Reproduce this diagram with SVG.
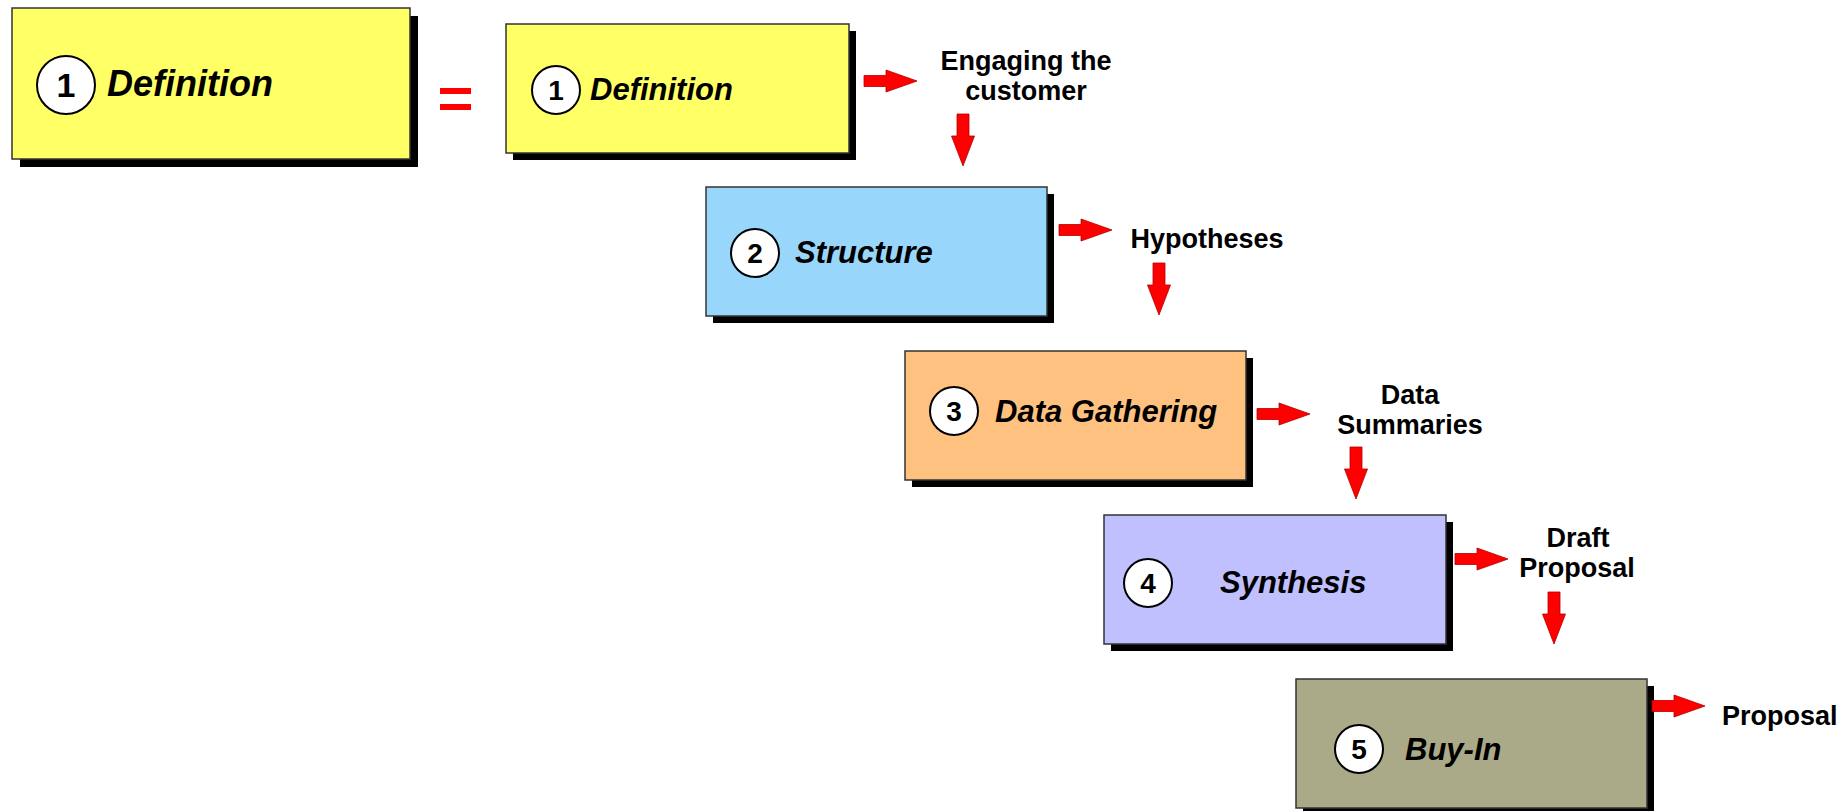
<svg xmlns="http://www.w3.org/2000/svg" width="1848" height="811" viewBox="0 0 1848 811">
<defs>
<style>
.shadow{fill:#000}
.box{stroke:#333;stroke-width:1.5}
.num-c{fill:#fff;stroke:#000;stroke-width:2}
.num{font-family:"Liberation Sans",Arial,sans-serif;font-weight:bold;font-size:28px;text-anchor:middle;fill:#000}
.title{font-family:"Liberation Sans",Arial,sans-serif;font-weight:bold;font-style:italic;font-size:31px;fill:#000}
.lbl{font-family:"Liberation Sans",Arial,sans-serif;font-weight:bold;font-size:27px;fill:#000;text-anchor:middle}
.arr{fill:#ff0000;stroke:#b00000;stroke-width:0.8}
</style>
<polygon id="ra" points="0,-5.5 22,-5.5 22,-11 53,0 22,11 22,5.5 0,5.5"/>
<polygon id="da" points="-6,0 6,0 6,22 11.5,22 0,52 -11.5,22 -6,22"/>
</defs>
<rect width="1848" height="811" fill="#fff"/>

<g id="node-big-definition">
<rect class="shadow" x="20" y="16" width="398" height="151"/>
<rect class="box" x="12" y="8" width="398" height="151" fill="#ffff66"/>
<circle class="num-c" cx="66" cy="85" r="29"/>
<text class="num" x="66" y="97" style="font-size:34px">1</text>
<text class="title" x="107" y="96" style="font-size:36px">Definition</text>
</g>

<g id="equals">
<rect x="440" y="88" width="31" height="6" fill="#ff0000"/>
<rect x="440" y="104" width="31" height="6" fill="#ff0000"/>
</g>

<g id="node-definition">
<rect class="shadow" x="513" y="31" width="343" height="129"/>
<rect class="box" x="506" y="24" width="343" height="129" fill="#ffff66"/>
<circle class="num-c" cx="556" cy="90" r="24"/>
<text class="num" x="556" y="100">1</text>
<text class="title" x="590" y="100">Definition</text>
</g>

<g id="node-structure">
<rect class="shadow" x="713" y="194" width="341" height="129"/>
<rect class="box" x="706" y="187" width="341" height="129" fill="#99d6fc"/>
<circle class="num-c" cx="755" cy="253" r="24"/>
<text class="num" x="755" y="263">2</text>
<text class="title" x="795" y="263">Structure</text>
</g>

<g id="node-data-gathering">
<rect class="shadow" x="912" y="358" width="341" height="129"/>
<rect class="box" x="905" y="351" width="341" height="129" fill="#ffc17f"/>
<circle class="num-c" cx="954" cy="411" r="24"/>
<text class="num" x="954" y="421">3</text>
<text class="title" x="995" y="422">Data Gathering</text>
</g>

<g id="node-synthesis">
<rect class="shadow" x="1111" y="522" width="342" height="129"/>
<rect class="box" x="1104" y="515" width="342" height="129" fill="#c0c0ff"/>
<circle class="num-c" cx="1148" cy="583" r="24"/>
<text class="num" x="1148" y="593">4</text>
<text class="title" x="1220" y="593">Synthesis</text>
</g>

<g id="node-buy-in">
<rect class="shadow" x="1303" y="686" width="351" height="129"/>
<rect class="box" x="1296" y="679" width="351" height="129" fill="#aaaa88"/>
<circle class="num-c" cx="1359" cy="749" r="24"/>
<text class="num" x="1359" y="759">5</text>
<text class="title" x="1405" y="760">Buy-In</text>
</g>

<g id="connectors">
<use href="#ra" class="arr" x="864" y="81"/>
<use href="#ra" class="arr" x="1059" y="230"/>
<use href="#ra" class="arr" x="1257" y="414"/>
<use href="#ra" class="arr" x="1455" y="559"/>
<use href="#ra" class="arr" x="1652" y="706"/>
<use href="#da" class="arr" x="963" y="114"/>
<use href="#da" class="arr" x="1159" y="263"/>
<use href="#da" class="arr" x="1356" y="447"/>
<use href="#da" class="arr" x="1554" y="592"/>
</g>

<g id="labels">
<text class="lbl" x="1026" y="70">Engaging the</text>
<text class="lbl" x="1026" y="100">customer</text>
<text class="lbl" x="1207" y="248">Hypotheses</text>
<text class="lbl" x="1410" y="404">Data</text>
<text class="lbl" x="1410" y="434">Summaries</text>
<text class="lbl" x="1578" y="547">Draft</text>
<text class="lbl" x="1577" y="577">Proposal</text>
<text class="lbl" x="1722" y="725" style="text-anchor:start">Proposal</text>
</g>
</svg>
